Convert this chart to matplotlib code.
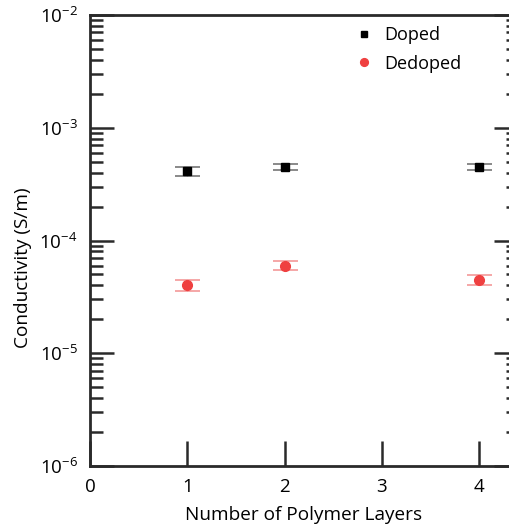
import matplotlib
matplotlib.use("Agg")
import matplotlib.pyplot as plt
from matplotlib.ticker import LogLocator, FixedLocator, NullFormatter

plt.rcParams['font.family'] = ['Open Sans', 'DejaVu Sans']
plt.rcParams['mathtext.fontset'] = 'custom'
plt.rcParams['mathtext.rm'] = 'Open Sans'
plt.rcParams['mathtext.it'] = 'Open Sans'

layers = [1, 2, 4]
doped = [4.1e-4, 4.5e-4, 4.5e-4]
doped_err = [0.35e-4, 0.3e-4, 0.25e-4]
dedoped = [4.0e-5, 6.0e-5, 4.5e-5]
dedoped_err = [0.45e-5, 0.55e-5, 0.46e-5]
xticks = [0, 1, 2, 3, 4]
yticks = [1e-6, 1e-5, 1e-4, 1e-3, 1e-2]
ytick_labels = [r'$10^{-6}$', r'$10^{-5}$', r'$10^{-4}$', r'$10^{-3}$', r'$10^{-2}$']

fig = plt.figure(figsize=(5.10, 5.27), dpi=100)
ax = fig.add_axes([90/510, (527-466)/527, (518-90)/510, (466-15)/527])

spine_c = '#2a2a2a'
ax.errorbar(layers, doped, yerr=doped_err, fmt='s', color='black', ms=6,
            ecolor='#6a6a6a', elinewidth=1.0, capsize=9, capthick=1.1, label='Doped')
ax.errorbar(layers, dedoped, yerr=dedoped_err, fmt='o', color='#EF4040', ms=7,
            ecolor='#F39090', elinewidth=1.0, capsize=9, capthick=1.1, label='Dedoped')

ax.set_yscale('log')
ax.set_ylim(1e-6, 1e-2)
ax.set_xlim(0, 4.4)
ax.set_xticks(xticks)
ax.set_xticklabels([str(t) for t in xticks])
ax.yaxis.set_major_locator(FixedLocator(yticks))
ax.set_yticklabels(ytick_labels)
ax.yaxis.set_minor_locator(LogLocator(base=10, subs=range(2, 10), numticks=20))
ax.yaxis.set_minor_formatter(NullFormatter())

for s in ax.spines.values():
    s.set_linewidth(2)
    s.set_color(spine_c)

ax.tick_params(axis='x', which='major', direction='in', length=18, width=1.8,
               color=spine_c, labelsize=13.5, pad=9, top=False)
ax.tick_params(axis='y', which='major', direction='in', length=17, width=1.8,
               color=spine_c, labelsize=13.5, pad=9, right=True)
ax.tick_params(axis='y', which='minor', direction='in', length=9, width=1.8,
               color=spine_c, right=True)

ax.set_xlabel('Number of Polymer Layers', fontsize=13.7)
ax.xaxis.set_label_coords(0.5, -(524 - 466) / 451)
ax.xaxis.label.set_va('bottom')
ax.set_ylabel('Conductivity (S/m)', fontsize=13.7)
ax.yaxis.set_label_coords((23 - 90) / 428, (466 - 268) / 451)
ax.yaxis.label.set_va('center')

handles, labels = ax.get_legend_handles_labels()
handles = [h[0] for h in handles]
ax.legend(handles, labels, loc='upper right', bbox_to_anchor=(0.905, 1.012),
          frameon=False, fontsize=13, handletextpad=0.6, markerscale=0.8,
          handlelength=1.0, labelspacing=0.6)

fig.savefig('out.png', dpi=100)
